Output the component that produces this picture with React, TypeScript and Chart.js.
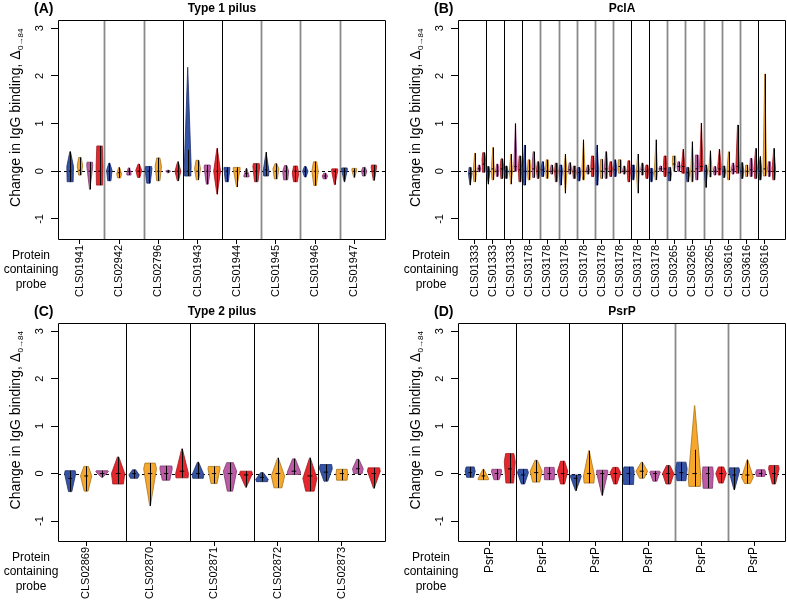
import React, { useEffect, useRef } from "react";
import { Chart, registerables } from "chart.js";

Chart.register(...registerables);

// Each violin: [lo, hi, peak (widest value), widthFracAtLo, widthFracAtHi, width (x units), median, whiskerHi?]
type Violin = number[];

const FONT = "'Liberation Sans', Arial, Helvetica, sans-serif";

const yTicks = [-1, 0, 1, 2, 3];
const seriesNames = ["Series 1", "Series 2", "Series 3", "Series 4"];
const seriesFill = ["#3553a4", "#f6a72c", "#bc5aa6", "#e5262c"];
const seriesStroke = ["#1e3070", "#a8741c", "#7e3a70", "#9e1b20"];

// (A) Type 1 pilus
const type1Labels = ["CLS01941", "CLS02942", "CLS02796", "CLS01943", "CLS01944", "CLS01945", "CLS01946", "CLS01947"];
const type1Separators = ["g", "g", "k", "k", "g", "g", "g"];
const type1Violins: Violin[] = [
  [-0.22, 0.41, 0.1, 0.9, 0.1, 0.68, 0],
  [-0.08, 0.29, 0.12, 0.5, 0.45, 0.55, 0.02],
  [-0.38, 0.19, 0.12, 0.05, 0.9, 0.62, 0],
  [-0.29, 0.53, 0.1, 0.9, 0.8, 0.7, 0],
  [-0.2, 0.17, 0.02, 0.6, 0.2, 0.55, 0],
  [-0.14, 0.08, -0.06, 0.6, 0.2, 0.5, -0.03],
  [-0.08, 0.07, -0.05, 0.9, 0.3, 0.45, 0],
  [-0.13, 0.15, 0.02, 0.4, 0.2, 0.6, 0],
  [-0.25, 0.1, 0.05, 0.5, 0.9, 0.7, 0],
  [-0.2, 0.28, 0.1, 0.5, 0.5, 0.65, 0],
  [-0.03, 0.02, 0, 0.3, 0.3, 0.5, 0],
  [-0.2, 0.2, 0, 0.2, 0.1, 0.6, 0],
  [-0.1, 2.18, 0.1, 0.9, 0, 0.7, 0, 0.45],
  [-0.18, 0.23, 0.05, 0.4, 0.5, 0.6, 0],
  [-0.27, 0.13, 0.08, 0.3, 0.9, 0.65, 0],
  [-0.48, 0.48, 0, 0.05, 0.05, 0.7, 0],
  [-0.22, 0.08, 0.05, 0.5, 1, 0.6, 0],
  [-0.33, 0.08, 0.05, 0.05, 1, 0.7, 0],
  [-0.12, 0.06, -0.1, 0.9, 0.1, 0.55, -0.05],
  [-0.22, 0.16, 0.1, 0.5, 0.85, 0.7, 0],
  [-0.1, 0.4, 0, 0.8, 0, 0.6, 0.03],
  [-0.16, 0.16, 0.05, 0.5, 0.3, 0.6, 0],
  [-0.18, 0.12, 0, 0.7, 0.4, 0.6, 0],
  [-0.22, 0.11, -0.05, 0.6, 0.6, 0.65, 0],
  [-0.12, 0.1, 0, 0.3, 0.3, 0.55, 0],
  [-0.3, 0.2, 0, 0.4, 0.5, 0.65, 0],
  [-0.16, -0.04, -0.1, 0.6, 0.4, 0.55, -0.1],
  [-0.28, 0.05, 0.02, 0.1, 0.9, 0.65, 0],
  [-0.22, 0.07, 0.04, 0.1, 0.9, 0.6, 0],
  [-0.13, 0.06, 0.03, 0.2, 0.9, 0.5, 0],
  [-0.1, 0.08, 0, 0.5, 0.5, 0.55, 0],
  [-0.19, 0.13, 0.08, 0.2, 0.9, 0.55, 0],
];

// (B) PclA
const pclALabels = [
  "CLS01333", "CLS01333", "CLS01333", "CLS03178", "CLS03178", "CLS03178", "CLS03178", "CLS03178", "CLS03178",
  "CLS03178", "CLS03178", "CLS03265", "CLS03265", "CLS03265", "CLS03616", "CLS03616", "CLS03616",
];
const pclASeparators = ["k", "k", "k", "g", "g", "g", "g", "g", "k", "k", "g", "g", "g", "g", "g", "k"];
const pclAViolins: Violin[] = [
  [-0.29, 0.08, -0.05, 0.1, 0.6, 0.75, -0.05],
  [-0.22, 0.38, -0.05, 0.5, 0.05, 0.7, 0],
  [-0.01, 0.13, 0.05, 0.6, 0.4, 0.7, 0.05],
  [-0.02, 0.39, 0.25, 0.8, 0.6, 0.75, 0.15],
  [-0.27, 0.1, 0.0, 0.05, 0.5, 0.7, 0],
  [-0.18, 0.5, 0.0, 0.5, 0.05, 0.7, 0.05],
  [-0.11, 0.15, 0.02, 0.5, 0.4, 0.7, 0],
  [-0.15, 0.26, 0.1, 0.6, 0.5, 0.75, 0.05],
  [-0.15, 0.11, 0.0, 0.5, 0.4, 0.7, 0],
  [-0.27, 0.36, 0.0, 0.1, 0.1, 0.7, 0],
  [0.0, 1.0, 0.1, 0.8, 0.05, 0.7, 0.1],
  [-0.22, 0.32, 0.05, 0.6, 0.5, 0.75, 0.03],
  [-0.29, 0.55, 0.0, 0.5, 0.05, 0.7, 0],
  [-0.18, 0.24, 0.03, 0.6, 0.6, 0.7, 0],
  [-0.13, 0.41, 0.1, 0.6, 0.3, 0.7, 0.05],
  [-0.15, 0.2, 0.03, 0.5, 0.4, 0.75, 0],
  [-0.11, 0.2, 0.05, 0.6, 0.3, 0.7, 0.03],
  [-0.15, 0.24, 0.05, 0.6, 0.6, 0.7, 0],
  [-0.06, 0.13, 0.02, 0.5, 0.4, 0.7, 0],
  [-0.22, 0.17, 0.0, 0.5, 0.6, 0.75, 0],
  [-0.29, 0.13, 0.0, 0.3, 0.6, 0.7, 0],
  [-0.46, 0.36, 0.0, 0.05, 0.05, 0.7, 0],
  [-0.06, 0.18, 0.05, 0.5, 0.4, 0.7, 0.03],
  [-0.15, 0.11, 0.0, 0.6, 0.6, 0.75, 0],
  [-0.2, 0.08, -0.05, 0.6, 0.6, 0.75, -0.03],
  [-0.18, 0.66, 0.0, 0.5, 0.05, 0.7, 0],
  [-0.06, 0.13, 0.02, 0.5, 0.4, 0.7, 0],
  [-0.11, 0.32, 0.1, 0.6, 0.6, 0.75, 0.05],
  [-0.29, 0.55, 0.0, 0.5, 0.05, 0.7, 0],
  [-0.15, 0.25, 0.05, 0.6, 0.6, 0.7, 0],
  [-0.15, 0.41, 0.1, 0.6, 0.3, 0.7, 0.05],
  [-0.11, 0.2, 0.05, 0.5, 0.4, 0.75, 0],
  [-0.11, 0.24, 0.05, 0.6, 0.3, 0.7, 0.03],
  [-0.04, 0.24, 0.1, 0.8, 0.8, 0.75, 0.1],
  [-0.06, 0.11, 0.02, 0.5, 0.4, 0.7, 0],
  [-0.22, 0.22, 0.0, 0.5, 0.5, 0.75, 0],
  [-0.18, 0.13, 0.0, 0.4, 0.6, 0.7, 0],
  [-0.46, 0.36, 0.0, 0.05, 0.05, 0.7, 0],
  [-0.08, 0.17, 0.05, 0.5, 0.4, 0.7, 0.03],
  [-0.15, 0.13, 0.0, 0.6, 0.6, 0.75, 0],
  [-0.22, 0.06, -0.05, 0.4, 0.7, 0.75, -0.03],
  [-0.18, 0.66, 0.0, 0.5, 0.05, 0.7, 0],
  [0.0, 0.11, 0.05, 0.6, 0.4, 0.7, 0.05],
  [-0.11, 0.32, 0.1, 0.6, 0.6, 0.75, 0.05],
  [-0.2, 0.08, -0.05, 0.6, 0.6, 0.75, -0.03],
  [0.0, 0.32, 0.2, 0.3, 0.8, 0.8, 0.15],
  [0.0, 0.2, 0.1, 0.6, 0.4, 0.7, 0.1],
  [-0.04, 0.46, 0.1, 0.8, 0.1, 0.75, 0.1],
  [-0.22, 0.08, -0.05, 0.5, 0.6, 0.75, -0.03],
  [-0.22, 0.62, 0.0, 0.5, 0.05, 0.7, 0],
  [-0.18, 0.34, 0.1, 0.6, 0.8, 0.75, 0.05],
  [0.0, 1.01, 0.1, 0.8, 0.05, 0.75, 0.1],
  [-0.34, 0.13, 0.0, 0.05, 0.5, 0.7, 0],
  [-0.12, 0.43, 0.05, 0.5, 0.05, 0.7, 0],
  [-0.08, 0.1, 0.0, 0.5, 0.5, 0.7, 0],
  [-0.08, 0.46, 0.1, 0.7, 0.1, 0.75, 0.05],
  [-0.13, 0.11, 0.0, 0.5, 0.5, 0.7, 0],
  [-0.18, 0.41, 0.0, 0.5, 0.05, 0.7, 0],
  [-0.06, 0.17, 0.05, 0.5, 0.4, 0.7, 0.03],
  [-0.04, 0.97, 0.1, 0.8, 0.05, 0.75, 0.1],
  [-0.15, 0.18, 0.0, 0.5, 0.4, 0.7, 0],
  [-0.11, 0.13, 0.0, 0.6, 0.6, 0.7, 0],
  [-0.11, 0.27, 0.05, 0.6, 0.5, 0.7, 0.03],
  [-0.15, 0.48, 0.05, 0.6, 0.05, 0.75, 0],
  [-0.18, 0.31, 0.0, 0.5, 0.1, 0.7, 0],
  [-0.1, 2.04, 0.05, 0.8, 0.02, 0.75, 0.05],
  [-0.11, 0.2, 0.05, 0.5, 0.6, 0.7, 0],
  [-0.18, 0.48, 0.05, 0.6, 0.05, 0.75, 0],
];

// (C) Type 2 pilus
const type2Labels = ["CLS02869", "CLS02870", "CLS02871", "CLS02872", "CLS02873"];
const type2Separators = ["k", "k", "k", "k"];
const type2Violins: Violin[] = [
  [-0.38, 0.06, 0.0, 0.3, 0.9, 0.7, -0.1],
  [-0.37, 0.15, -0.05, 0.35, 0.4, 0.7, -0.05],
  [-0.08, 0.06, 0.04, 0.1, 0.9, 0.8, 0],
  [-0.22, 0.35, 0.0, 0.8, 0.1, 0.83, 0],
  [-0.1, 0.08, -0.03, 0.7, 0.3, 0.65, 0],
  [-0.68, 0.22, 0.1, 0.05, 0.8, 0.8, 0],
  [-0.14, 0.16, 0.1, 0.6, 0.95, 0.77, 0],
  [-0.09, 0.52, 0.0, 0.95, 0.05, 0.8, 0.05],
  [-0.1, 0.24, -0.02, 0.9, 0.1, 0.73, 0],
  [-0.21, 0.15, 0.1, 0.5, 0.95, 0.75, 0],
  [-0.37, 0.23, 0.05, 0.4, 0.5, 0.83, 0],
  [-0.29, 0.05, 0.0, 0.05, 0.9, 0.8, -0.03],
  [-0.17, 0.02, -0.12, 0.9, 0.2, 0.77, -0.08],
  [-0.3, 0.33, -0.05, 0.6, 0.05, 0.83, 0],
  [-0.02, 0.31, 0.03, 0.95, 0.2, 0.83, 0.05],
  [-0.37, 0.33, -0.1, 0.6, 0.05, 0.88, -0.05],
  [-0.16, 0.19, 0.1, 0.3, 0.9, 0.8, 0.03],
  [-0.14, 0.09, 0.0, 0.9, 0.9, 0.73, 0],
  [0.0, 0.3, 0.1, 0.8, 0.2, 0.67, 0.1],
  [-0.31, 0.12, 0.05, 0.05, 0.9, 0.8, 0],
];

// (D) PsrP
const psrPLabels = ["PsrP", "PsrP", "PsrP", "PsrP", "PsrP", "PsrP"];
const psrPSeparators = ["k", "k", "k", "g", "g"];
const psrPViolins: Violin[] = [
  [-0.08, 0.14, 0.05, 0.7, 0.8, 0.76, 0.02],
  [-0.13, 0.09, -0.11, 0.95, 0.1, 0.8, -0.05],
  [-0.13, 0.09, 0.05, 0.5, 0.9, 0.78, 0],
  [-0.2, 0.42, 0.25, 0.7, 0.75, 0.83, 0.1],
  [-0.22, 0.09, 0.02, 0.3, 0.8, 0.83, -0.03],
  [-0.18, 0.28, 0.05, 0.6, 0.2, 0.9, 0.02],
  [-0.13, 0.13, 0.0, 0.9, 0.9, 0.8, 0],
  [-0.22, 0.26, 0.05, 0.4, 0.4, 0.78, 0],
  [-0.36, -0.03, -0.06, 0.05, 0.9, 0.83, -0.1],
  [-0.2, 0.48, -0.05, 0.9, 0.05, 0.83, 0],
  [-0.46, 0.07, 0.03, 0.05, 0.95, 0.86, 0],
  [-0.22, 0.13, 0.02, 0.3, 0.5, 0.8, 0],
  [-0.23, 0.14, 0.05, 0.9, 0.85, 0.83, 0],
  [-0.1, 0.24, 0.05, 0.4, 0.1, 0.88, 0.05],
  [-0.16, 0.05, 0.03, 0.4, 0.9, 0.78, 0],
  [-0.22, 0.17, 0.0, 0.4, 0.3, 0.86, 0],
  [-0.15, 0.24, 0.1, 0.8, 0.8, 0.86, 0.02],
  [-0.27, 1.43, -0.1, 0.9, 0.02, 0.96, 0, 0.5],
  [-0.31, 0.14, 0.0, 0.85, 0.9, 0.83, 0],
  [-0.2, 0.14, 0.0, 0.4, 0.5, 0.8, 0],
  [-0.34, 0.12, 0.05, 0.05, 0.9, 0.8, -0.03],
  [-0.21, 0.29, -0.08, 0.5, 0.05, 0.88, -0.03],
  [-0.06, 0.08, 0.02, 0.8, 0.8, 0.76, 0],
  [-0.22, 0.17, 0.1, 0.3, 0.9, 0.8, 0],
];

const Y_MIN = -1.42;
const Y_MAX = 3.17;

interface PanelCfg {
  letter: string;
  title: string;
  labels: string[];
  violins: Violin[];
  seps: string[];
  left: number;
  top: number;
  w: number;
  h: number;
  plotL: number;
  plotR: number;
  plotT: number;
  plotB: number;
  labelAt: number;
  labelSize: number;
}

const panels: PanelCfg[] = [
  { letter: "(A)", title: "Type 1 pilus", labels: type1Labels, violins: type1Violins, seps: type1Separators,
    left: 0, top: 0, w: 393, h: 300, plotL: 58, plotR: 386, plotT: 20, plotB: 239, labelAt: 2, labelSize: 11 },
  { letter: "(B)", title: "PclA", labels: pclALabels, violins: pclAViolins, seps: pclASeparators,
    left: 393, top: 0, w: 394, h: 300, plotL: 65, plotR: 393, plotT: 20, plotB: 239, labelAt: 2, labelSize: 11 },
  { letter: "(C)", title: "Type 2 pilus", labels: type2Labels, violins: type2Violins, seps: type2Separators,
    left: 0, top: 300, w: 393, h: 301, plotL: 58, plotR: 386, plotT: 23, plotB: 241, labelAt: 2, labelSize: 11 },
  { letter: "(D)", title: "PsrP", labels: psrPLabels, violins: psrPViolins, seps: psrPSeparators,
    left: 393, top: 300, w: 394, h: 301, plotL: 65, plotR: 393, plotT: 23, plotB: 241, labelAt: 2.5, labelSize: 12 },
];

function makePlugin(cfg: PanelCfg) {
  return {
    id: "violinPanel",
    beforeDatasetsDraw(chart: any) {
      const { ctx, chartArea: a, scales } = chart;
      const x = scales.x;
      const y = scales.y;
      ctx.save();
      cfg.seps.forEach((c, k) => {
        const px = Math.round(x.getPixelForValue(4 * k + 4.5)) + 0.5;
        ctx.beginPath();
        ctx.strokeStyle = c === "k" ? "#000" : "#8a8a8a";
        ctx.lineWidth = c === "k" ? 1 : 1.8;
        ctx.moveTo(px, a.top);
        ctx.lineTo(px, a.bottom);
        ctx.stroke();
      });
      const y0 = Math.round(y.getPixelForValue(0)) + 0.5;
      ctx.setLineDash([3, 3]);
      ctx.strokeStyle = "#000";
      ctx.lineWidth = 1;
      ctx.beginPath();
      ctx.moveTo(a.left, y0);
      ctx.lineTo(a.right, y0);
      ctx.stroke();
      ctx.restore();
    },
    afterDatasetsDraw(chart: any) {
      const { ctx, chartArea: a, scales } = chart;
      const x = scales.x;
      const y = scales.y;
      const unit = Math.abs(x.getPixelForValue(1) - x.getPixelForValue(0));
      ctx.save();
      ctx.lineJoin = "round";
      chart.data.datasets.forEach((ds: any, s: number) => {
        ds.data.forEach((pt: any) => {
          const [lo, hi, peak, wLo, wHi, w, med, whi] = pt.v;
          const cx = x.getPixelForValue(pt.x);
          const half = (w * unit) / 2;
          const yl = y.getPixelForValue(lo);
          const yh = y.getPixelForValue(hi);
          const yp = y.getPixelForValue(Math.min(Math.max(peak, lo), hi));
          ctx.beginPath();
          ctx.moveTo(cx - half * wLo, yl);
          ctx.lineTo(cx - half, yp);
          ctx.lineTo(cx - half * wHi, yh);
          ctx.lineTo(cx + half * wHi, yh);
          ctx.lineTo(cx + half, yp);
          ctx.lineTo(cx + half * wLo, yl);
          ctx.closePath();
          ctx.fillStyle = seriesFill[s];
          ctx.fill();
          ctx.strokeStyle = seriesStroke[s];
          ctx.lineWidth = 0.8;
          ctx.stroke();
          // whisker / IQR line
          const wx = Math.round(cx) + 0.5;
          ctx.beginPath();
          ctx.strokeStyle = "#000";
          ctx.lineWidth = 1;
          ctx.moveTo(wx, yl);
          ctx.lineTo(wx, y.getPixelForValue(whi !== undefined ? whi : hi));
          ctx.stroke();
          // median tick
          const ym = y.getPixelForValue(med);
          const mh = Math.max(1.2, half * 0.35);
          ctx.beginPath();
          ctx.moveTo(cx - mh, ym);
          ctx.lineTo(cx + mh, ym);
          ctx.stroke();
        });
      });
      // plot box
      ctx.strokeStyle = "#000";
      ctx.lineWidth = 1;
      ctx.strokeRect(a.left + 0.5, a.top + 0.5, a.right - a.left - 1, a.bottom - a.top);
      ctx.restore();
    },
    afterDraw(chart: any) {
      const { ctx, chartArea: a } = chart;
      ctx.save();
      ctx.fillStyle = "#000";
      ctx.textBaseline = "middle";
      ctx.textAlign = "left";
      ctx.font = `bold 14px ${FONT}`;
      ctx.fillText(cfg.letter, a.left - 24, a.top - 11);
      ctx.textAlign = "center";
      ctx.font = `bold 12px ${FONT}`;
      ctx.fillText(cfg.title, (a.left + a.right) / 2, a.top - 11);
      ctx.font = `12px ${FONT}`;
      ["Protein", "containing", "probe"].forEach((t, i) => {
        ctx.fillText(t, a.left - 27, a.bottom + 16.5 + i * 14.5);
      });
      // y-axis title with subscript
      ctx.translate(a.left - 38.5, (a.top + a.bottom) / 2 - 11.5);
      ctx.rotate(-Math.PI / 2);
      const main = "Change in IgG binding, \u0394";
      const sub = "0\u219284";
      ctx.font = `14px ${FONT}`;
      const w1 = ctx.measureText(main).width;
      ctx.font = `8px ${FONT}`;
      const w2 = ctx.measureText(sub).width;
      const start = -(w1 + w2) / 2;
      ctx.textAlign = "left";
      ctx.textBaseline = "alphabetic";
      ctx.font = `14px ${FONT}`;
      ctx.fillText(main, start, 0);
      ctx.font = `8px ${FONT}`;
      ctx.fillText(sub, start + w1 + 0.5, 3);
      ctx.restore();
    },
  };
}

function buildConfig(cfg: PanelCfg): any {
  const n = cfg.violins.length;
  const ext = 0.04 * (n - 1);
  const datasets = seriesNames.map((name, s) => ({
    label: name,
    data: cfg.violins
      .map((v, i) => ({ x: i + 1, y: v[6], v, s: i % 4 }))
      .filter((d) => d.s === s),
    pointRadius: 0,
    showLine: false,
  }));
  return {
    type: "scatter",
    data: { datasets },
    options: {
      animation: false,
      responsive: false,
      devicePixelRatio: 1,
      events: [],
      layout: { padding: { left: 0, top: cfg.plotT, right: cfg.w - cfg.plotR, bottom: 0 } },
      plugins: { legend: { display: false }, tooltip: { enabled: false }, title: { display: false } },
      scales: {
        x: {
          type: "linear",
          min: 1 - ext,
          max: n + ext,
          afterBuildTicks: (scale: any) => {
            scale.ticks = cfg.labels.map((_, g) => ({ value: g * 4 + cfg.labelAt }));
          },
          afterFit: (scale: any) => {
            scale.height = cfg.h - cfg.plotB;
          },
          ticks: {
            autoSkip: false,
            minRotation: 90,
            maxRotation: 90,
            padding: 1,
            color: "#000",
            font: { family: FONT, size: cfg.labelSize },
            callback: (_v: any, idx: number) => cfg.labels[idx],
          },
          grid: { drawOnChartArea: false, drawTicks: true, tickLength: 5, color: "#000", lineWidth: 1 },
          border: { display: false },
        },
        y: {
          type: "linear",
          min: Y_MIN,
          max: Y_MAX,
          afterBuildTicks: (scale: any) => {
            scale.ticks = yTicks.map((v) => ({ value: v }));
          },
          afterFit: (scale: any) => {
            scale.width = cfg.plotL;
          },
          ticks: {
            minRotation: 90,
            maxRotation: 90,
            crossAlign: "center",
            padding: 6,
            color: "#000",
            font: { family: FONT, size: 11 },
            callback: (v: any) => String(v),
          },
          grid: { drawOnChartArea: false, drawTicks: true, tickLength: 7, color: "#000", lineWidth: 1 },
          border: { display: false },
        },
      },
    },
    plugins: [makePlugin(cfg)],
  };
}

function Panel({ cfg }: { cfg: PanelCfg }) {
  const ref = useRef<HTMLCanvasElement>(null);
  useEffect(() => {
    const chart = new Chart(ref.current as HTMLCanvasElement, buildConfig(cfg));
    return () => chart.destroy();
  }, [cfg]);
  return (
    <canvas
      ref={ref}
      width={cfg.w}
      height={cfg.h}
      style={{ position: "absolute", left: cfg.left, top: cfg.top, width: cfg.w, height: cfg.h }}
    />
  );
}

export default function App() {
  return (
    <div style={{ position: "absolute", left: 0, top: 0, width: 787, height: 601, background: "#fff" }}>
      {panels.map((p) => (
        <Panel key={p.letter} cfg={p} />
      ))}
    </div>
  );
}
